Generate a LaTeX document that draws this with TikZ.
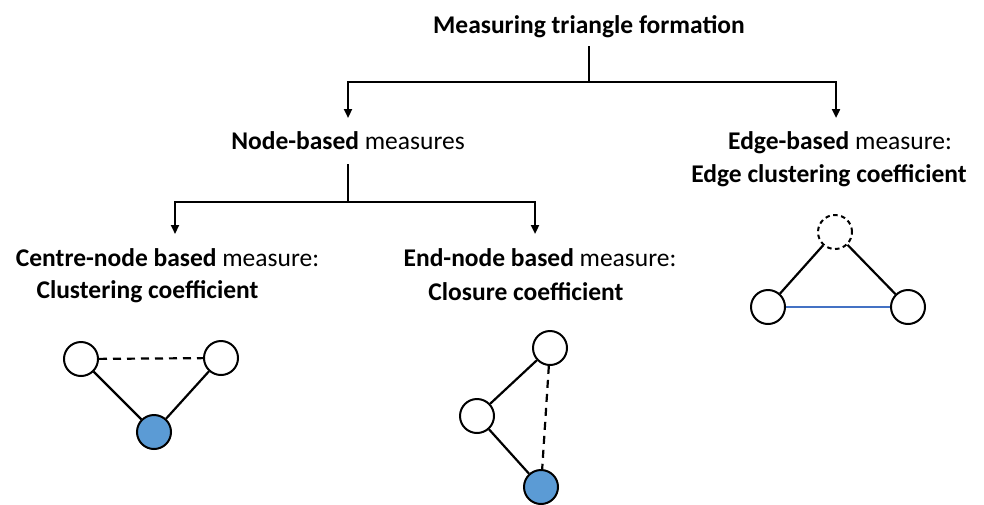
\documentclass[tikz,border=0pt]{standalone}
\usepackage{fontspec}
\setmainfont{Carlito}
\usetikzlibrary{arrows.meta}
\definecolor{nodeblue}{HTML}{5B9BD5}
\definecolor{edgeblue}{HTML}{4472C4}
\begin{document}
\begin{tikzpicture}[x=1pt,y=-1pt,
  lbl/.style={inner sep=0pt, anchor=base, font=\fontsize{25.5}{30}\selectfont},
  conn/.style={line width=2.2pt},
  arr/.style={line width=2.2pt, -{Triangle[width=8pt,length=9pt]}},
  vtx/.style={circle, draw, line width=2pt, minimum size=34pt, inner sep=0pt, fill=white},
  bvtx/.style={vtx, fill=nodeblue},
  dvtx/.style={vtx, dash pattern=on 4.5pt off 3.5pt},
  edge/.style={line width=2.2pt},
  dedge/.style={line width=2.2pt, dash pattern=on 8pt off 6pt},
]
\useasboundingbox (0,0) rectangle (984,504);

% labels
\node[lbl] (title) at (589,33) {\bfseries Measuring triangle formation};
\node[lbl] (nb) at (348,149) {\textbf{Node-based} measures};
\node[lbl] (eb1) at (840,149) {\textbf{Edge-based} measure:};
\node[lbl] (eb2) at (829,182) {\bfseries Edge clustering coefficient};
\node[lbl] (cn1) at (167.5,266.5) {\textbf{Centre-node based} measure:};
\node[lbl] (cn2) at (147.5,298.5) {\bfseries Clustering coefficient};
\node[lbl] (en1) at (540,266.5) {\textbf{End-node based} measure:};
\node[lbl] (en2) at (526,300) {\bfseries Closure coefficient};

% tree connectors
\coordinate (j0) at (589,82);
\coordinate (tipnb) at (348,118);
\coordinate (tipeb) at (836,118);
\coordinate (j1) at (348,202);
\coordinate (tipcn) at (175,234);
\coordinate (tipen) at (535,234);
\coordinate (t0) at (589,46);
\coordinate (t1) at (348,164);
\draw[conn] (t0) -- (j0);
\draw[arr] (j0) -| (tipnb);
\draw[arr] (j0) -| (tipeb);
\draw[conn] (t1) -- (j1);
\draw[arr] (j1) -| (tipcn);
\draw[arr] (j1) -| (tipen);

% centre-node triangle
\node[vtx] (a1) at (81,359) {};
\node[vtx] (a2) at (221,358) {};
\node[bvtx] (a3) at (154,432) {};
\draw[dedge] (a1) -- (a2);
\draw[edge] (a1) -- (a3);
\draw[edge] (a2) -- (a3);

% end-node triangle
\node[vtx] (b1) at (550,348) {};
\node[vtx] (b2) at (477,416) {};
\node[bvtx] (b3) at (541,487) {};
\draw[edge] (b1) -- (b2);
\draw[edge] (b2) -- (b3);
\draw[dedge] (b1) -- (b3);

% edge-based triangle
\node[dvtx] (c1) at (835,232) {};
\node[vtx] (c2) at (768,307) {};
\node[vtx] (c3) at (908,307) {};
\draw[edge] (c1) -- (c2);
\draw[edge] (c1) -- (c3);
\draw[line width=2.6pt, edgeblue] (c2) -- (c3);
\end{tikzpicture}
\end{document}
